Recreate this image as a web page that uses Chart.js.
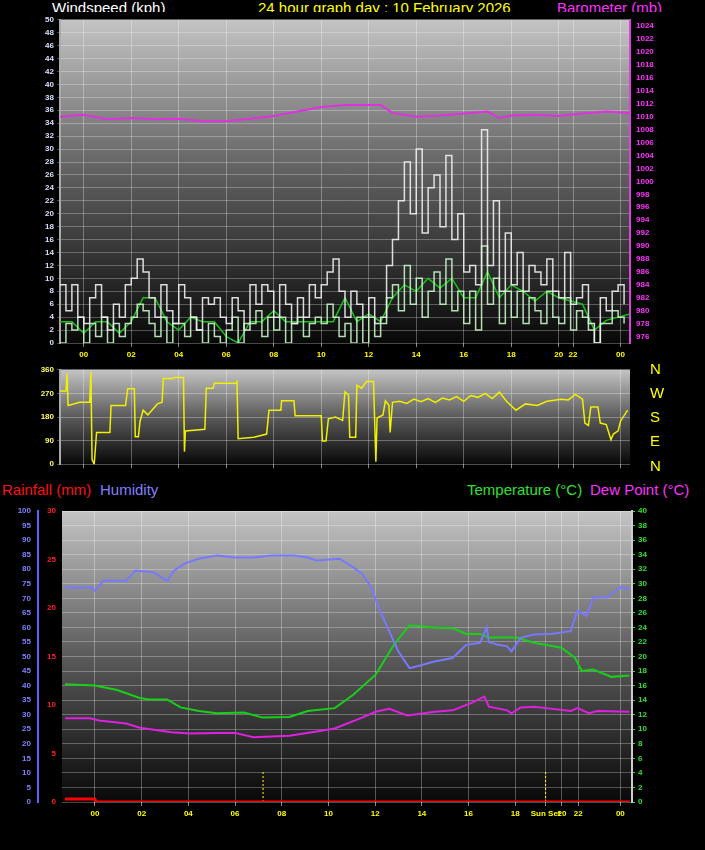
<!DOCTYPE html>
<html>
<head>
<meta charset="utf-8">
<script src="https://cdn.jsdelivr.net/npm/chart.js@4"></script>
<style>
  body { margin:0; background:#000; width:705px; height:850px; position:relative; overflow:hidden; font-family:"Liberation Sans", Arial, sans-serif; }
  canvas { position:absolute; left:0; }
  .t { position:absolute; font-size:15px; white-space:nowrap; line-height:16px; }
  .d { position:absolute; left:650px; color:#ffff00; font-size:15px; }
</style>
</head>
<body>
<div class="t" style="left:52px;top:0;color:#fff">Windspeed (kph)</div>
<div class="t" style="left:258px;top:0;color:#ffff00">24 hour graph day : 10 February 2026</div>
<div class="t" style="left:557px;top:0;color:#ff30ff">Barometer (mb)</div>
<canvas id="wind" width="705" height="350" style="top:12px"></canvas>
<canvas id="dir" width="705" height="110" style="top:362px"></canvas>
<div class="d" style="top:360px">N</div>
<div class="d" style="top:384px">W</div>
<div class="d" style="top:408px">S</div>
<div class="d" style="top:432px">E</div>
<div class="d" style="top:457px">N</div>
<div class="t" style="left:2px;top:482px;color:#ff1010">Rainfall (mm)</div>
<div class="t" style="left:100px;top:482px;color:#8080ff">Humidity</div>
<div class="t" style="left:467px;top:482px;color:#30e030">Temperature (°C)</div>
<div class="t" style="left:590px;top:482px;color:#ff30ff">Dew Point (°C)</div>
<canvas id="temp" width="705" height="350" style="top:500px"></canvas>
<script>
// hour positions of the tick labels (the graph squeezes the last hours)
const topTickHours = [0, 2, 4, 6, 8, 10, 12, 14, 16, 18, 20, 20.6, 22.6];
const topTickLabels = ['00', '02', '04', '06', '08', '10', '12', '14', '16', '18', '20', '22', '00'];
const botTickHours = [0, 2, 4, 6, 8, 10, 12, 14, 16, 18, 19.3, 20, 20.7, 22.5];
const botTickLabels = ['00', '02', '04', '06', '08', '10', '12', '14', '16', '18', 'Sun Set', '20', '22', '00'];

// wind, one reading every quarter hour from -1h
const windGust = [9, 5, 9, 4, 3, 7, 9, 4, 2, 6, 4, 9, 10, 13, 11, 7, 4, 9, 5, 3, 9, 7, 4, 2,
  7, 6, 7, 4, 3, 7, 5, 2, 9, 6, 9, 8, 4, 9, 6, 3, 7, 4, 9, 7, 9, 11, 13, 8,
  4, 8, 6, 4, 7, 3, 4, 12, 16, 22, 28, 20, 30, 17, 24, 26, 18, 29, 16, 20, 11, 12, 9, 33,
  12, 22, 8, 17, 9, 14, 8, 12, 11, 9, 13, 8, 7, 14, 6, 7, 9, 3, 0, 7, 5, 8, 9, 6];
const windAvg = [0, 3, 2, 4, 0, 3, 1, 4, 0, 3, 1, 3, 4, 6, 5, 3, 1, 4, 0, 3, 3, 1, 4, 2,
  0, 3, 1, 0, 2, 4, 0, 3, 3, 5, 1, 4, 2, 4, 0, 3, 4, 1, 3, 4, 3, 6, 4, 1,
  3, 0, 4, 0, 4, 1, 3, 7, 9, 5, 12, 6, 10, 4, 8, 11, 6, 13, 5, 8, 3, 8, 2, 15,
  6, 10, 3, 8, 4, 8, 3, 7, 5, 3, 8, 4, 3, 7, 2, 5, 4, 2, 0, 3, 3, 5, 4, 3];
// smoothed wind, every half hour from -1h
const windMean = [3.3, 3.3, 1.5, 3.3, 3.3, 1.5, 3.3, 7, 7, 3.3, 2, 4, 3.3, 3.3, 1, 0, 3.3, 3.3, 5, 3.3,
  3.3, 3.3, 3.3, 3.3, 7, 3.3, 4.5, 3.3, 7, 9, 8, 10, 8.5, 10, 7, 7, 11, 7, 9, 8, 6.5, 8, 7, 6.5, 6, 2, 3.5, 4, 4.5];

const baroHours = [-1, 0, 1, 2, 3, 4, 5, 6, 7, 8, 9, 10, 11, 12, 12.5, 13, 14, 15, 16, 17, 17.5, 18, 19, 20, 21, 22, 23];
const baroValues = [1010, 1010.3, 1009.6, 1009.8, 1009.6, 1009.7, 1009.3, 1009.3, 1009.7, 1010.1, 1010.8, 1011.5, 1011.8, 1011.8,
  1011.8, 1010.6, 1010, 1010.2, 1010.5, 1010.8, 1009.8, 1010.2, 1010.3, 1010.1, 1010.5, 1010.8, 1010.6];

const dirHours = [-1, -0.75, -0.7, -0.66, -0.17, 0.25, 0.3, 0.35, 0.44, 0.54, 1.1, 1.15, 1.76, 1.85, 2.13, 2.17, 2.3, 2.37, 2.5, 2.7,
  3.1, 3.3, 3.35, 3.73, 3.83, 4.2, 4.24, 4.28, 5.1, 5.16, 5.45, 5.5, 6.43, 6.45, 6.5, 7.16, 7.7, 7.8, 8.3, 8.33, 8.85, 8.9,
  10.0, 10.05, 10.2, 10.3, 10.6, 10.9, 11.0, 11.15, 11.2, 11.45, 11.5, 11.7, 11.9, 12.2, 12.3, 12.35, 12.6, 12.7, 12.85, 12.9, 13.0,
  13.3, 13.6, 13.9, 14.2, 14.5, 14.8, 15.1, 15.4, 15.7, 16.0, 16.3, 16.6, 16.9, 17.2, 17.5, 17.8, 18.2, 18.6, 19.1, 19.5,
  20.1, 20.4, 20.7, 21.0, 21.1, 21.25, 21.35, 21.65, 21.75, 22.0, 22.2, 22.3, 22.5, 22.6, 22.9];
const dirValues = [279, 279, 346, 224, 236, 236, 352, 18, 0, 121, 121, 224, 224, 288, 288, 105, 105, 164, 206, 188,
  230, 236, 327, 327, 331, 331, 48, 127, 133, 290, 290, 309, 309, 320, 97, 103, 115, 206, 206, 242, 242, 185,
  185, 88, 88, 173, 180, 167, 276, 264, 103, 103, 301, 290, 315, 315, 9, 176, 188, 242, 225, 121, 236,
  240, 232, 248, 238, 250, 236, 252, 245, 258, 240, 262, 255, 270, 250, 275, 240, 206, 230, 224, 240,
  248, 245, 266, 248, 157, 148, 218, 218, 157, 151, 93, 115, 127, 164, 206];

const humHours = [-1.28, -0.12, 0, 0.37, 1.34, 1.73, 2.5, 2.89, 3.09, 3.09, 3.38, 3.86, 4.45, 5.22, 6.0, 6.78, 7.55, 8.52, 9.1,
  9.5, 10.47, 11.05, 11.44, 11.83, 12.21, 12.6, 12.99, 13.47, 13.96, 14.54, 15.32, 15.9, 16.49, 16.78, 16.87, 17.26, 17.65,
  17.84, 18.23, 18.81, 19.59, 20.37, 20.66, 21.05, 21.34, 21.92, 22.5, 22.89];
const humValues = [73.7, 73.7, 72.5, 76, 76, 79.5, 79, 77, 76, 76, 79.5, 82, 83.6, 84.7, 84, 84, 84.7, 84.7, 84,
  83, 83.6, 80.7, 78.4, 73.8, 65.7, 58.7, 51.8, 46, 47, 48.3, 49.5, 54, 54.7, 60, 55, 54, 53.5,
  51.8, 56.4, 57.6, 57.8, 58.7, 65.7, 64, 70.3, 70.3, 73.8, 73.2];
const tempHours = [-1.28, 0, 0.95, 1.92, 2.31, 3.09, 3.67, 4.45, 5.22, 6.39, 7.18, 8.33, 9.11, 10.27, 11.05, 12.02, 12.8,
  13.47, 14.54, 15.32, 15.9, 16.49, 16.87, 18.04, 18.81, 19.98, 20.56, 20.85, 21.34, 22.12, 22.89];
const tempValues = [16.2, 16, 15.4, 14.3, 14.1, 14.1, 13, 12.5, 12.2, 12.3, 11.6, 11.7, 12.5, 12.9, 14.7, 17.5, 21.6,
  24.3, 24, 23.9, 23.1, 23.1, 22.6, 22.6, 21.9, 21.2, 19.8, 18, 18.2, 17.2, 17.4];
const dewHours = [-1.28, -0.21, 0.17, 1.34, 1.92, 3.28, 4.06, 5.22, 6.0, 6.78, 8.33, 9.5, 10.27, 11.44, 12.02, 12.6, 13.38,
  14.54, 15.32, 16.1, 16.68, 16.87, 17.65, 17.84, 18.23, 18.81, 19.59, 20.37, 20.66, 21.15, 21.53, 22.89];
const dewValues = [11.5, 11.5, 11.2, 10.8, 10.2, 9.6, 9.4, 9.5, 9.5, 8.9, 9.1, 9.7, 10.1, 11.6, 12.4, 12.8, 11.9,
  12.4, 12.6, 13.6, 14.5, 13.1, 12.6, 12.2, 13, 13.1, 12.8, 12.5, 12.9, 12.2, 12.5, 12.4];
const rainHours = [-1.28, 0, 0.05, 22.9];
const rainValues = [0.3, 0.3, 0, 0];
const sunriseHour = 7.2;
const sunsetHour = 19.3;

const pts = (xs, ys) => ys.map((y, i) => ({ x: xs[i], y: y }));
const stepPts = (start, step, ys) => ys.map((y, i) => ({ x: start + i * step, y: y }));
const tickFont = { family: 'Liberation Sans', size: 8, weight: 'bold' };
const gridDots = { color: 'rgba(255,255,255,0.28)', tickLength: 3 };

const bgPlugin = {
  id: 'bg',
  beforeDraw(chart) {
    const c = chart.ctx, a = chart.chartArea;
    c.save();
    c.fillStyle = '#000';
    c.fillRect(0, 0, chart.width, chart.height);
    const g = c.createLinearGradient(0, a.top, 0, a.bottom);
    g.addColorStop(0, '#c4c4c4');
    g.addColorStop(0.5, '#5a5a5a');
    g.addColorStop(1, '#080808');
    c.fillStyle = g;
    c.fillRect(a.left, a.top, a.right - a.left, a.bottom - a.top);
    c.restore();
  }
};

function timeAxis(min, max, hours, labels, show, h) {
  return {
    type: 'linear', min: min, max: max,
    afterBuildTicks: s => { s.ticks = hours.map(v => ({ value: v })); },
    ticks: { display: show, color: '#ffff00', font: tickFont, autoSkip: false, maxRotation: 0,
      callback: (v, i) => labels[i] },
    grid: { color: 'rgba(255,255,255,0.3)', tickLength: 4, tickColor: '#888' },
    border: { display: false },
    afterFit: s => { s.height = h; }
  };
}

function line(data, color, width, axis, extra) {
  return Object.assign({ data: data, borderColor: color, borderWidth: width, pointRadius: 0, yAxisID: axis, tension: 0 }, extra || {});
}

const baseOpts = { responsive: false, animation: false, events: [], plugins: { legend: { display: false }, tooltip: { enabled: false } } };

new Chart(document.getElementById('wind'), {
  type: 'line',
  data: { datasets: [
    line(pts(baroHours, baroValues), '#e030e0', 2, 'baro'),
    line(stepPts(-1, 0.25, windGust), 'rgba(240,240,240,0.9)', 1.5, 'y', { stepped: true }),
    line(stepPts(-1, 0.25, windAvg), 'rgba(200,245,200,0.9)', 1.5, 'y', { stepped: true }),
    line(stepPts(-1, 0.5, windMean), '#18c018', 1.5, 'y')
  ] },
  options: Object.assign({}, baseOpts, {
    layout: { padding: { top: 5 } },
    scales: {
      x: timeAxis(-1, 23, topTickHours, topTickLabels, true, 19),
      y: { position: 'left', min: 0, max: 50, ticks: { stepSize: 2, color: '#d8e0ff', font: tickFont },
        grid: gridDots, border: { color: '#aaa', width: 2 }, afterFit: s => { s.width = 60; } },
      baro: { position: 'right', min: 975, max: 1025,
        afterBuildTicks: s => { const t = []; for (let v = 976; v <= 1024; v += 2) t.push({ value: v }); s.ticks = t; },
        ticks: { color: '#ff30ff', font: tickFont, callback: v => String(v) }, grid: { display: false, tickLength: 3 },
        border: { color: '#e040e0', width: 2 }, afterFit: s => { s.width = 75; } }
    }
  }),
  plugins: [bgPlugin]
});

new Chart(document.getElementById('dir'), {
  type: 'line',
  data: { datasets: [ line(pts(dirHours, dirValues), '#f0f000', 1.5, 'y') ] },
  options: Object.assign({}, baseOpts, {
    layout: { padding: { top: 3, bottom: 4, right: 75 } },
    scales: {
      x: timeAxis(-1, 23, topTickHours, topTickLabels, false, 0),
      y: { min: 0, max: 360, ticks: { stepSize: 90, color: '#ffff60', font: tickFont },
        grid: { color: 'rgba(255,255,255,0.3)', tickLength: 3 }, border: { color: '#aaa', width: 2 },
        afterFit: s => { s.width = 60; } }
    }
  }),
  plugins: [bgPlugin]
});

new Chart(document.getElementById('temp'), {
  type: 'line',
  data: { datasets: [
    line(pts(humHours, humValues), '#7878ff', 2, 'hum'),
    line(pts(tempHours, tempValues), '#18d018', 2, 'temp'),
    line(pts(dewHours, dewValues), '#e020e0', 2, 'temp'),
    line(pts(rainHours, rainValues), '#ff0000', 3, 'rain'),
    line([{ x: sunriseHour, y: 0 }, { x: sunriseHour, y: 4.2 }], '#ffff00', 1, 'temp', { borderDash: [2, 2] }),
    line([{ x: sunsetHour, y: 0 }, { x: sunsetHour, y: 4.2 }], '#ffff00', 1, 'temp', { borderDash: [2, 2] })
  ] },
  options: Object.assign({}, baseOpts, {
    layout: { padding: { top: 11 } },
    scales: {
      x: timeAxis(-1.41, 23, botTickHours, botTickLabels, true, 48),
      rain: { position: 'left', min: 0, max: 30, ticks: { stepSize: 5, color: '#ff2020', font: tickFont },
        grid: { display: false, tickLength: 3, tickColor: '#ff2020' }, border: { display: false },
        afterFit: s => { s.width = 24; } },
      hum: { position: 'left', min: 0, max: 100, ticks: { stepSize: 5, color: '#8080ff', font: tickFont },
        grid: { display: false, tickLength: 4, tickColor: '#8080ff' }, border: { color: '#6060ff', width: 2 },
        afterFit: s => { s.width = 38; } },
      temp: { position: 'right', min: 0, max: 40, ticks: { stepSize: 2, color: '#30e030', font: tickFont },
        grid: { color: 'rgba(255,255,255,0.28)', tickLength: 3, tickColor: '#30e030' }, border: { color: '#ccc', width: 2 },
        afterFit: s => { s.width = 73; } }
    }
  }),
  plugins: [bgPlugin]
});
</script>
</body>
</html>
